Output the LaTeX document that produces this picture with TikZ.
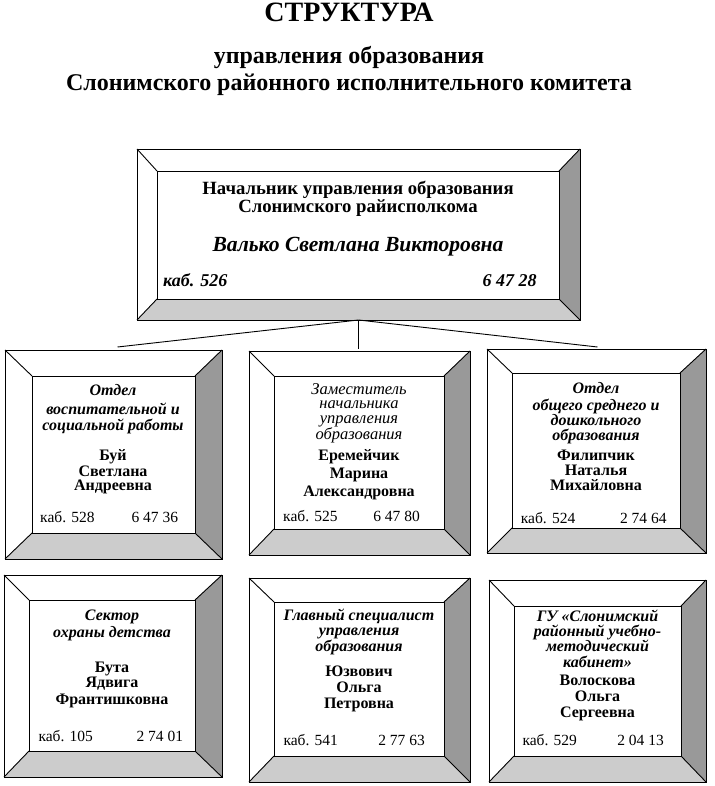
\documentclass[tikz,border=0pt]{standalone}
\usepackage{fontspec}
\setmainfont{Liberation Serif}
\usetikzlibrary{calc}
\definecolor{sideg}{HTML}{999999}
\definecolor{botg}{HTML}{CCCCCC}
\tikzset{
  edge/.style={line width=0.9pt, black},
  boxshape/.style={rectangle, draw=none, inner sep=0pt, outer sep=0pt},
  itl/.style={font=\fontsize{16}{18}\selectfont\bfseries\itshape, inner sep=0pt},
  itr/.style={font=\fontsize{16.5}{18}\selectfont\itshape, inner sep=0pt},
  nm/.style={font=\fontsize{16}{18}\selectfont\bfseries, inner sep=0pt},
  rg/.style={font=\fontsize{15.5}{17}\selectfont, inner sep=0pt},
  hd/.style={font=\fontsize{18.7}{20}\selectfont\bfseries, inner sep=0pt},
  hdname/.style={font=\fontsize{21.6}{24}\selectfont\bfseries\itshape, inner sep=0pt},
  hdkab/.style={font=\fontsize{18}{20}\selectfont\bfseries\itshape, inner sep=0pt},
  ttl/.style={font=\fontsize{28}{30}\selectfont\bfseries, inner sep=0pt},
  sub/.style={font=\fontsize{24}{26}\selectfont\bfseries, inner sep=0pt},
}
% #1 name, #2-#5 outer x1 y1 x2 y2, #6-#9 inner x1 y1 x2 y2
\newcommand\bevbox[9]{%
  \node[boxshape, minimum width={(#4-#2)*1pt}, minimum height={(#5-#3)*1pt}] (#1) at ({(#2+#4)/2},{(#3+#5)/2}) {};
  \node[boxshape, minimum width={(#8-#6)*1pt}, minimum height={(#9-#7)*1pt}] (#1i) at ({(#6+#8)/2},{(#7+#9)/2}) {};
  \fill[white] (#1.north west) rectangle (#1.south east);
  \fill[sideg] (#1.north east) -- (#1i.north east) -- (#1i.south east) -- (#1.south east) -- cycle;
  \fill[botg] (#1.south west) -- (#1i.south west) -- (#1i.south east) -- (#1.south east) -- cycle;
  \draw[edge] (#1.north west) rectangle (#1.south east);
  \draw[edge] (#1i.north west) rectangle (#1i.south east);
  \draw[edge] (#1.north west) -- (#1i.north west) (#1.north east) -- (#1i.north east)
              (#1.south west) -- (#1i.south west) (#1.south east) -- (#1i.south east);
}
% #1 name, #2 x, #3 style, #4 list y/text
\newcommand\txtlines[4]{%
  \foreach \yy/\ltxt [count=\k] in {#4} {\node[#3, anchor=base] (#1-\k) at (#2,\yy) {\ltxt};}
}
% #1 name, #2 left x, #3 right x, #4 baseline, #5 room, #6 phone
\newcommand\kabline[6]{%
  \node[rg, anchor=base west] (#1-kab) at (#2,#4) {#5};
  \node[rg, anchor=base east] (#1-tel) at (#3,#4) {#6};
}
\begin{document}
\begin{tikzpicture}[x=1pt, y=-1pt]
\useasboundingbox (0,0) rectangle (714,786);
\fill[white] (0,0) rectangle (714,786);

% title
\node[ttl, anchor=base] (title) at (349,22) {СТРУКТУРА};
\node[sub, anchor=base] (sub1) at (349,64) {управления образования};
\node[sub, anchor=base] (sub2) at (349,91) {Слонимского районного исполнительного комитета};

% boxes
\bevbox{top}{137}{149}{580}{320}{157}{171}{559}{299}
\bevbox{b1}{5}{350}{222}{559}{32}{376}{195}{533}
\bevbox{b2}{249}{351}{470}{555}{274}{376}{444}{529}
\bevbox{b3}{487}{349}{706}{553}{512}{373}{680}{528}
\bevbox{b4}{4}{575}{222}{777}{29}{600}{195}{751}
\bevbox{b5}{249}{578}{470}{782}{274}{602}{444}{756}
\bevbox{b6}{489}{580}{706}{782}{514}{606}{681}{756}

% connectors
\draw[edge] (top.south) -- ([xshift=4pt,yshift=3pt]b1.north);
\draw[edge] (top.south) -- ([yshift=2pt]top.south |- b2.north);
\draw[edge] (top.south) -- ([xshift=1pt,yshift=2pt]b3.north);

% top box text
\node[hd, anchor=base] (t1) at (358,195) {Начальник управления образования};
\node[hd, anchor=base] (t2) at (358,212.7) {Слонимского райисполкома};
\node[hdname, anchor=base] (t3) at (358,251.7) {Валько Светлана Викторовна};
\node[hdkab, anchor=base west] (t4) at (163,286.7) {каб. 526};
\node[hdkab, anchor=base east] (t5) at (536.7,286.7) {6 47 28};

% box 1
\txtlines{b1a}{113}{itl}{395/Отдел, 414/воспитательной и, 430.7/социальной работы}
\txtlines{b1n}{113}{nm}{460/Буй, 476/Светлана, 490.7/Андреевна}
\kabline{b1}{40}{178.3}{522.7}{каб. 528}{6 47 36}

% box 2
\txtlines{b2a}{359}{itr}{394/Заместитель, 408.3/начальника, 423.3/управления, 439.3/образования}
\txtlines{b2n}{359}{nm}{460.7/Еремейчик, 478.3/Марина, 496.7/Александровна}
\kabline{b2}{283}{420}{521.7}{каб. 525}{6 47 80}

% box 3
\txtlines{b3a}{596}{itl}{393.3/Отдел, 410/общего среднего и, 425/дошкольного, 440/образования}
\txtlines{b3n}{596}{nm}{460/Филипчик, 475/Наталья, 490.7/Михайловна}
\kabline{b3}{520.7}{666.7}{523.3}{каб. 524}{2 74 64}

% box 4
\txtlines{b4a}{112}{itl}{620/Сектор, 637.7/охраны детства}
\txtlines{b4n}{112}{nm}{672.3/Бута, 687.7/Ядвига, 704.3/Франтишковна}
\kabline{b4}{38.3}{183.3}{741.7}{каб. 105}{2 74 01}

% box 5
\txtlines{b5a}{359}{itl}{620/Главный специалист, 635/управления, 651/образования}
\txtlines{b5n}{359}{nm}{676.7/Юзвович, 692.3/Ольга, 708.3/Петровна}
\kabline{b5}{283.3}{425}{745}{каб. 541}{2 77 63}

% box 6
\txtlines{b6a}{597.5}{itl}{621/ГУ «Слонимский, 636.7/районный учебно-, 651.7/методический, 667/кабинет»}
\txtlines{b6n}{597.5}{nm}{685.7/Волоскова, 701.7/Ольга, 717.7/Сергеевна}
\kabline{b6}{522.3}{664}{745}{каб. 529}{2 04 13}
\end{tikzpicture}
\end{document}
